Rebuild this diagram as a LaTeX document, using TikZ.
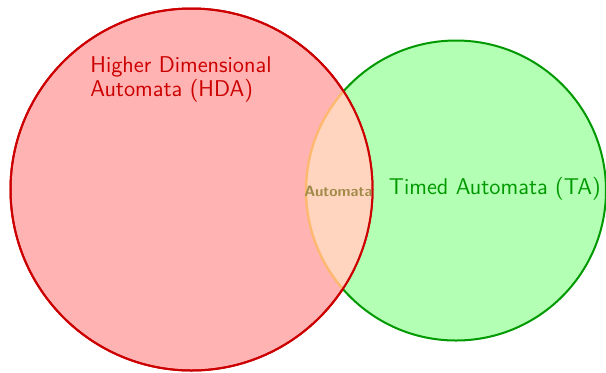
\documentclass[tikz,border=0pt]{standalone}
\usepackage{tikz}
\definecolor{hdaline}{HTML}{CC0000}
\definecolor{hdafill}{HTML}{FFB3B3}
\definecolor{taline}{HTML}{009900}
\definecolor{tafill}{HTML}{B3FFB3}
\definecolor{bothfill}{HTML}{FFD5BF}
\definecolor{bothline}{HTML}{FFB870}
\definecolor{bothtext}{HTML}{A08A48}
\tikzset{
  setlabel/.style={font=\sffamily\fontsize{11.4}{13.5}\selectfont, inner sep=0pt, anchor=base west},
  corelabel/.style={font=\sffamily\bfseries\fontsize{7.5}{9}\selectfont, inner sep=0pt, anchor=base, text=bothtext},
}
\begin{document}
\begin{tikzpicture}[x=0.5pt,y=-0.5pt]
\useasboundingbox (0,0) rectangle (606,372);
\coordinate (hda) at (191.5,189.5);
\coordinate (ta) at (456,190.5);
% Timed automata set
\fill[tafill] (ta) circle[radius=75pt];
\draw[taline, line width=1pt] (ta) circle[radius=75pt];
% HDA set
\fill[hdafill] (hda) circle[radius=90.5pt];
\draw[hdaline, line width=1pt] (hda) circle[radius=90.5pt];
% common part of both sets
\begin{scope}
  \clip (hda) circle[radius=90.5pt];
  \fill[bothfill] (ta) circle[radius=75pt];
  \draw[bothline, line width=1.2pt] (ta) circle[radius=75pt];
\end{scope}
\draw[hdaline, line width=1pt] (hda) circle[radius=90.5pt];
% labels
\node[setlabel, text=hdaline] (l1) at (90,72) {Higher Dimensional};
\node[setlabel, text=hdaline] (l2) at (90,96.5) {Automata (HDA)};
\node[setlabel, text=taline] (l3) at (388.5,194.5) {Timed Automata (TA)};
\node[corelabel] (l4) at (338.5,196) {Automata};
\end{tikzpicture}
\end{document}
